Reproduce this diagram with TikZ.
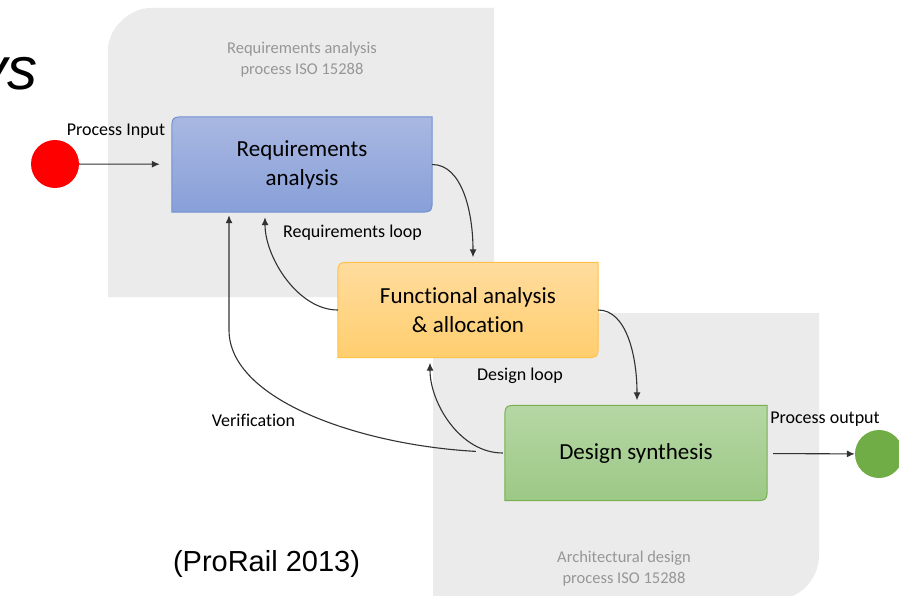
\documentclass[tikz,border=0pt]{standalone}
\usepackage{fontspec}
\setmainfont{Carlito}[Ligatures=NoCommon]
\newfontfamily\arialfont{Liberation Sans}
\usetikzlibrary{arrows.meta,backgrounds}

\definecolor{regiongray}{RGB}{235,235,235}
\definecolor{captiongray}{RGB}{150,150,150}
\definecolor{reqtop}{RGB}{169,184,226}
\definecolor{reqbot}{RGB}{136,159,216}
\definecolor{reqline}{RGB}{114,146,210}
\definecolor{funtop}{RGB}{255,220,158}
\definecolor{funbot}{RGB}{255,206,110}
\definecolor{funline}{RGB}{255,194,70}
\definecolor{syntop}{RGB}{182,215,165}
\definecolor{synbot}{RGB}{156,200,133}
\definecolor{synline}{RGB}{118,176,80}
\definecolor{startred}{RGB}{255,0,0}
\definecolor{endgreen}{RGB}{112,173,71}
\definecolor{flowline}{RGB}{50,50,50}

% box outline: rounded top left and bottom right corners
\newcommand{\stepshape}[4]{%
  \path[shade, top color=#2, bottom color=#3, draw=#4, line width=1pt]
    (#1.south west) -- ([yshift=-15pt]#1.north west)
    .. controls (#1.north west) .. ([xshift=15pt]#1.north west)
    -- (#1.north east) -- ([yshift=15pt]#1.south east)
    .. controls (#1.south east) .. ([xshift=-15pt]#1.south east) -- cycle;}

\begin{document}
\begin{tikzpicture}[x=1pt,y=-1pt,
  stepbox/.style={minimum width=260pt, minimum height=95pt, inner sep=0pt, align=center, font=\fontsize{23}{29}\selectfont},
  flowtext/.style={inner sep=0pt, font=\fontsize{18}{22}\selectfont},
  regiontext/.style={inner sep=0pt, align=center, text=captiongray, font=\fontsize{16.5}{21}\selectfont},
  flow/.style={draw=flowline, line width=1.1pt, -{Latex[length=8pt,width=7pt]}}]
	\useasboundingbox (0,0) rectangle (899,596);

	% process regions
	\begin{pgfonlayer}{background}
	\fill[regiongray] (108,297) -- (108,50) .. controls (108,27) and (131,8) .. (150,8) -- (494,8) -- (494,297) -- cycle;
	\fill[regiongray] (433,313) -- (819,313) -- (819,555) .. controls (819,580) and (799,600) .. (774,600) -- (433,600) -- cycle;
	\end{pgfonlayer}
	\node[regiontext] (reqtitle) at (302,59.5) {Requirements analysis\\process ISO 15288};
	\node[regiontext] (archtitle) at (624,569) {Architectural design\\process ISO 15288};

	% steps
	\node[stepbox] (req) at (302,164.5) {Requirements\\analysis};
	\node[stepbox] (fun) at (468,310) {Functional analysis\\\& allocation};
	\node[stepbox, minimum width=262pt] (syn) at (636,453) {Design synthesis};
	\begin{pgfonlayer}{background}
	\stepshape{req}{reqtop}{reqbot}{reqline}
	\stepshape{fun}{funtop}{funbot}{funline}
	\stepshape{syn}{syntop}{synbot}{synline}
	\end{pgfonlayer}

	% input and output
	\node[circle, fill=startred, minimum size=48pt, inner sep=0pt] (in) at (55,164) {};
	\node[circle, fill=endgreen, minimum size=48pt, inner sep=0pt] (out) at (879,454) {};
	\draw[flow, shorten >=12pt] (in) -- (req);
	\draw[flow, shorten <=6pt] (syn) -- (out);
	\node[flowtext] (inlabel) at (116,131) {Process Input};
	\node[flowtext] (outlabel) at (825,419.5) {Process output};

	% forward flow and loops
	\draw[flow, shorten >=5pt] (req.east) .. controls +(30,0) and +(0,-50) .. ([xshift=5pt]fun.north);
	\draw[flow, shorten >=5pt] (fun.east) .. controls +(28,0) and +(0,-50) .. ([xshift=1pt]syn.north);
	\draw[flow, shorten >=5pt] (fun.west) .. controls +(-40,0) and +(0,45) .. ([xshift=-37pt]req.south);
	\draw[flow, shorten <=2pt, shorten >=5pt] (syn.west) .. controls +(-45,0) and +(0,45) .. ([xshift=-38pt]fun.south);
	\draw[flow, shorten <=29pt, shorten >=3pt] (syn.west) .. controls (360,445) and (229,400) .. (229,330) -- ([xshift=-73pt]req.south);
	\node[flowtext] (reqloop) at (352.5,232.5) {Requirements loop};
	\node[flowtext] (designloop) at (520,376) {Design loop};
	\node[flowtext] (verif) at (253.5,420) {Verification};

	% source and slide title
	\node[inner sep=0pt, font=\arialfont\fontsize{29}{34}\selectfont] (source) at (266.5,563.5) {(ProRail 2013)};
	\node[inner sep=0pt, anchor=base east, font=\arialfont\itshape\fontsize{60}{70}\selectfont] (title) at (38,90) {ys};
\end{tikzpicture}
\end{document}
